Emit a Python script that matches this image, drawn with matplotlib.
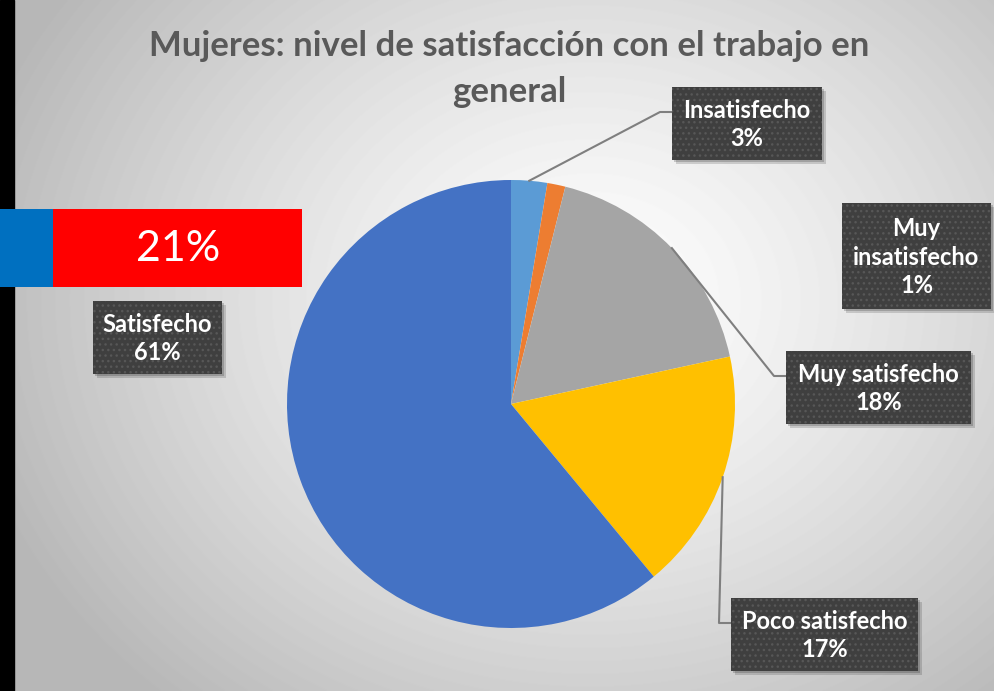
import numpy as np
import matplotlib
matplotlib.use("Agg")
import matplotlib.pyplot as plt
from matplotlib.patches import Rectangle

# data
categories = ["Insatisfecho", "Muy insatisfecho", "Muy satisfecho", "Poco satisfecho", "Satisfecho"]
values = [2.6, 1.3, 17.7, 17.4, 61.0]
colors = ["#5B9BD5", "#ED7D31", "#A5A5A5", "#FFC000", "#4472C4"]
box_texts = ["Insatisfecho", "Muy\ninsatisfecho", "Muy satisfecho", "Poco satisfecho", "Satisfecho"]
title_lines = ["Mujeres: nivel de satisfacción con el trabajo en", "general"]
callout = "21%"

W, H = 995, 691
CX, CY, R = 511, 404, 224

# label box layout in pixels (x0, y0, x1, y1), and whether a leader line is drawn
boxes = [(672, 87, 822, 160), (842, 203, 991, 309), (786, 351, 971, 424),
         (731, 598, 918, 671), (93, 301, 222, 374)]
leaders = [True, False, True, True, False]

plt.rcParams["font.family"] = ["Lato", "DejaVu Sans"]

fig = plt.figure(figsize=(W / 100, H / 100), dpi=100)

# background axes in pixel coords
bg = fig.add_axes([0, 0, 1, 1], zorder=0)
bg.set_xlim(0, W)
bg.set_ylim(H, 0)
bg.axis("off")
yy, xx = np.mgrid[0:H, 0:W]
d = np.sqrt(((xx - 590) / 620.0) ** 2 + ((yy - 300) / 520.0) ** 2)
shade = np.clip(1.0 - 0.27 * d ** 1.3, 0.72, 1.0)
bg.imshow(shade, cmap="gray", vmin=0, vmax=1, extent=(0, W, H, 0), aspect="auto", zorder=0)
bg.add_patch(Rectangle((0, 0), 14, H, color="black", zorder=1))

# pie axes
pw = 2 * 1.25 * R
ax = fig.add_axes([(CX - pw / 2) / W, (H - CY - pw / 2) / H, pw / W, pw / H], zorder=1)
ax.patch.set_alpha(0)
wedges, _ = ax.pie(values, colors=colors, startangle=90, counterclock=False,
                   radius=1.0, wedgeprops=dict(linewidth=0))

# overlay axes for labels
ov = fig.add_axes([0, 0, 1, 1], zorder=2)
ov.set_xlim(0, W)
ov.set_ylim(H, 0)
ov.axis("off")
ov.patch.set_alpha(0)


def to_px(x, y):
    disp = ax.transData.transform((x, y))
    return ov.transData.inverted().transform(disp)


for i, (w, (x0, y0, x1, y1)) in enumerate(zip(wedges, boxes)):
    pct = round(values[i])
    # shadow
    ov.add_patch(Rectangle((x0 + 4, y0 + 4), x1 - x0, y1 - y0, color="black", alpha=0.15, lw=0, zorder=3))
    ov.add_patch(Rectangle((x0 + 2, y0 + 2), x1 - x0, y1 - y0, color="black", alpha=0.18, lw=0, zorder=3))
    ov.add_patch(Rectangle((x0, y0), x1 - x0, y1 - y0, facecolor="#3F3F3F", lw=0, zorder=4))
    ov.add_patch(Rectangle((x0, y0), x1 - x0, y1 - y0, fill=False, hatch="...",
                           edgecolor="#575757", lw=0, zorder=5))
    ov.text((x0 + x1) / 2, (y0 + y1) / 2 + 1, f"{box_texts[i]}\n{pct}%", color="white",
            fontsize=17, fontweight="bold", ha="center", va="center",
            linespacing=1.3, zorder=6)
    if leaders[i]:
        mid = np.deg2rad((w.theta1 + w.theta2) / 2)
        sx, sy = to_px(np.cos(mid), np.sin(mid))
        ey = y0 + 25
        ex = x0 - 12
        ov.plot([sx, ex, x0], [sy, ey, ey], color="#7F7F7F", lw=1.5, zorder=2)

# title, one text per line
for ty, line in zip([46, 92], title_lines):
    ov.text(509, ty, line, ha="center", va="center", fontsize=25, fontweight="bold",
            color="#595959")

# callout box
ov.add_patch(Rectangle((0, 209), 53, 78, color="#0070C0", lw=0, zorder=3))
ov.add_patch(Rectangle((53, 209), 249, 78, color="#FF0000", lw=0, zorder=3))
ov.text(178, 249, callout, color="white", fontsize=31, ha="center", va="center", zorder=4)

fig.savefig("out.png", dpi=100)
